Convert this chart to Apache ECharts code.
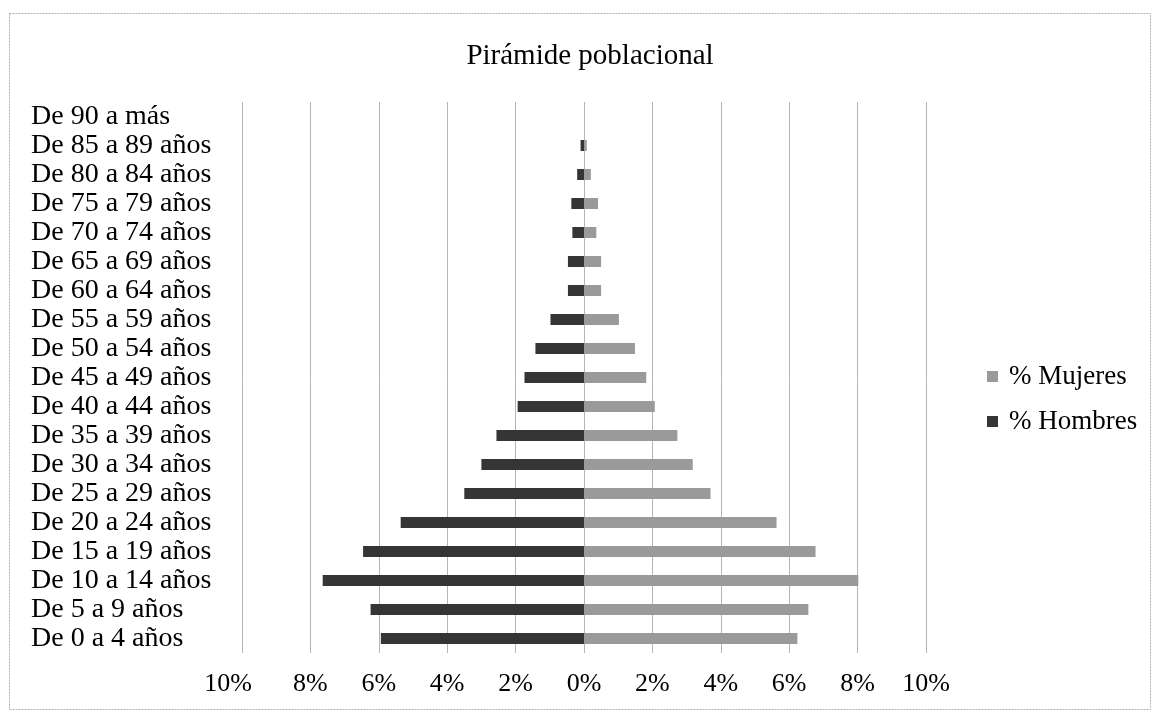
<!DOCTYPE html>
<html>
<head>
<meta charset="utf-8">
<script src="https://cdn.jsdelivr.net/npm/echarts@6/dist/echarts.min.js"></script>
<style>html,body{margin:0;padding:0;background:#fff}#c{width:1152px;height:710px}</style>
</head>
<body>
<div id="c"></div>
<script>
// Categories from bottom (youngest) to top (oldest)
const categories = ["De 0 a 4 años","De 5 a 9 años","De 10 a 14 años","De 15 a 19 años","De 20 a 24 años","De 25 a 29 años","De 30 a 34 años","De 35 a 39 años","De 40 a 44 años","De 45 a 49 años","De 50 a 54 años","De 55 a 59 años","De 60 a 64 años","De 65 a 69 años","De 70 a 74 años","De 75 a 79 años","De 80 a 84 años","De 85 a 89 años","De 90 a más"];
const hombres = [5.94, 6.24, 7.64, 6.46, 5.36, 3.50, 3.00, 2.56, 1.94, 1.74, 1.42, 0.98, 0.47, 0.47, 0.34, 0.37, 0.20, 0.10, 0];
const mujeres = [6.24, 6.56, 8.02, 6.77, 5.63, 3.70, 3.18, 2.73, 2.07, 1.82, 1.49, 1.02, 0.50, 0.50, 0.36, 0.41, 0.20, 0.08, 0];
const tickValues = [-10,-8,-6,-4,-2,0,2,4,6,8,10];

const FONT = '"Liberation Serif","Times New Roman",serif';
const chart = echarts.init(document.getElementById('c'));
chart.setOption({
  animation: false,
  title: {
    text: 'Pirámide poblacional',
    left: 585, top: 37, textAlign: 'center',
    textStyle: {fontFamily: FONT, fontSize: 29, fontWeight: 'normal', color: '#000'}
  },
  legend: {
    orient: 'vertical', left: 982, top: 358,
    itemWidth: 11, itemHeight: 11, itemGap: 18, icon: 'rect',
    data: ['% Mujeres', '% Hombres'],
    textStyle: {fontFamily: FONT, fontSize: 27, color: '#000', padding: [0,0,0,6]}
  },
  grid: {left: 242, right: 226, top: 102, bottom: 57},
  xAxis: {
    type: 'value', min: -10, max: 10, interval: 2,
    axisLine: {show: false}, axisTick: {show: false},
    axisLabel: {
      fontFamily: FONT, fontSize: 26, color: '#000', margin: 18,
      formatter: v => (v === tickValues[0] ? '{s|' + Math.abs(v) + '%}' : Math.abs(v) + '%'),
      rich: {s: {fontFamily: FONT, fontSize: 26, color: '#000', padding: [0, 28, 0, 0]}}
    },
    splitLine: {show: true, lineStyle: {color: '#b5b5b5', width: 1}}
  },
  yAxis: {
    type: 'category', data: categories,
    axisLine: {show: false}, axisTick: {show: false},
    axisLabel: {interval: 0, fontFamily: FONT, fontSize: 28, color: '#000', align: 'left', margin: 211}
  },
  series: [
    {
      name: '% Hombres', type: 'bar', barWidth: 11, barGap: '-100%',
      data: hombres.map(v => -v),
      itemStyle: {color: '#353535'}
    },
    {
      name: '% Mujeres', type: 'bar', barWidth: 11, barGap: '-100%',
      data: mujeres,
      itemStyle: {color: '#9a9a9a'}
    }
  ],
  graphic: [{
    type: 'rect', shape: {x: 9.5, y: 13.5, width: 1141, height: 696},
    style: {fill: 'none', stroke: '#b0b0b0', lineWidth: 1, lineDash: [2,1]}, silent: true
  }]
});
</script>
</body>
</html>
